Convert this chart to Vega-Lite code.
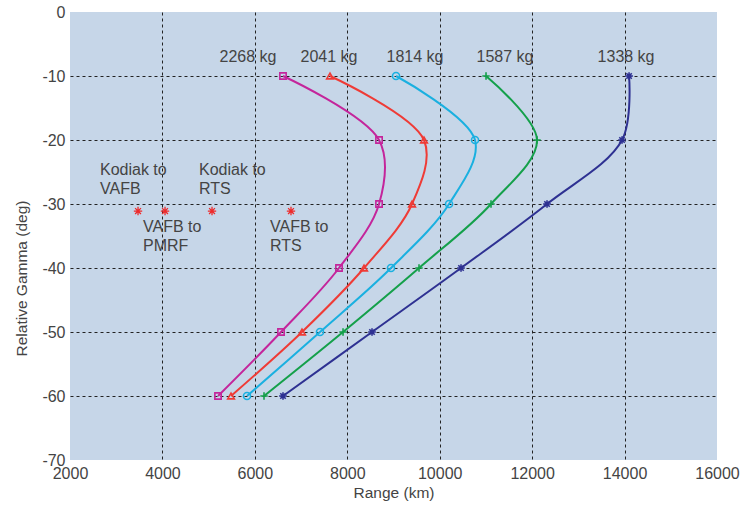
{
  "$schema": "https://vega.github.io/schema/vega-lite/v6.json",
  "width": 647,
  "height": 448,
  "autosize": "none",
  "padding": {"left": 70, "top": 12, "right": 39, "bottom": 46},
  "background": "white",
  "config": {
    "font": "Liberation Sans",
    "view": {"fill": "#c6d6e8", "stroke": null},
    "axis": {
      "domain": false,
      "ticks": false,
      "labelFlush": false,
      "labelOverlap": false,
      "labelFont": "Liberation Sans",
      "labelFontSize": 16,
      "labelColor": "#444444",
      "titleFont": "Liberation Sans",
      "titleFontSize": 15.5,
      "titleFontWeight": "normal",
      "titleColor": "#444444",
      "gridColor": "#222222",
      "gridDash": [3, 3],
      "gridWidth": 1
    }
  },
  "datasets": {
    "curves": [
      {"mass": "2268 kg", "range": 6609, "gamma": -10},
      {"mass": "2268 kg", "range": 8687, "gamma": -20},
      {"mass": "2268 kg", "range": 8687, "gamma": -30},
      {"mass": "2268 kg", "range": 7821, "gamma": -40},
      {"mass": "2268 kg", "range": 6566, "gamma": -50},
      {"mass": "2268 kg", "range": 5203, "gamma": -60},
      {"mass": "2041 kg", "range": 7626, "gamma": -10},
      {"mass": "2041 kg", "range": 9660, "gamma": -20},
      {"mass": "2041 kg", "range": 9401, "gamma": -30},
      {"mass": "2041 kg", "range": 8362, "gamma": -40},
      {"mass": "2041 kg", "range": 7020, "gamma": -50},
      {"mass": "2041 kg", "range": 5484, "gamma": -60},
      {"mass": "1814 kg", "range": 9055, "gamma": -10},
      {"mass": "1814 kg", "range": 10764, "gamma": -20},
      {"mass": "1814 kg", "range": 10202, "gamma": -30},
      {"mass": "1814 kg", "range": 8946, "gamma": -40},
      {"mass": "1814 kg", "range": 7410, "gamma": -50},
      {"mass": "1814 kg", "range": 5830, "gamma": -60},
      {"mass": "1587 kg", "range": 11002, "gamma": -10},
      {"mass": "1587 kg", "range": 12106, "gamma": -20},
      {"mass": "1587 kg", "range": 11110, "gamma": -30},
      {"mass": "1587 kg", "range": 9552, "gamma": -40},
      {"mass": "1587 kg", "range": 7908, "gamma": -50},
      {"mass": "1587 kg", "range": 6198, "gamma": -60},
      {"mass": "1338 kg", "range": 14097, "gamma": -10},
      {"mass": "1338 kg", "range": 13945, "gamma": -20},
      {"mass": "1338 kg", "range": 12322, "gamma": -30},
      {"mass": "1338 kg", "range": 10461, "gamma": -40},
      {"mass": "1338 kg", "range": 8535, "gamma": -50},
      {"mass": "1338 kg", "range": 6609, "gamma": -60}
    ],
    "massLabels": [
      {"mass": "2268 kg", "range": 5852, "gamma": -7},
      {"mass": "2041 kg", "range": 7604, "gamma": -7},
      {"mass": "1814 kg", "range": 9466, "gamma": -7},
      {"mass": "1587 kg", "range": 11413, "gamma": -7},
      {"mass": "1338 kg", "range": 14032, "gamma": -7}
    ],
    "sites": [
      {"route": "Kodiak to VAFB", "range": 3472, "gamma": -31.1},
      {"route": "VAFB to PMRF", "range": 4056, "gamma": -31.1},
      {"route": "Kodiak to RTS", "range": 5073, "gamma": -31.1},
      {"route": "VAFB to RTS", "range": 6782, "gamma": -31.1}
    ],
    "siteLabels": [
      {"label": "Kodiak to\nVAFB", "range": 2649, "gamma": -23.4},
      {"label": "Kodiak to\nRTS", "range": 4792, "gamma": -23.4},
      {"label": "VAFB to\nPMRF", "range": 3580, "gamma": -32.3},
      {"label": "VAFB to\nRTS", "range": 6328, "gamma": -32.3}
    ]
  },
  "layer": [
    {
      "data": {"name": "curves"},
      "mark": {"type": "line", "interpolate": "catmull-rom", "strokeWidth": 2},
      "encoding": {
        "x": {
          "field": "range", "type": "quantitative",
          "scale": {"domain": [2000, 16000], "nice": false, "zero": false},
          "axis": {
            "title": "Range (km)",
            "values": [2000, 4000, 6000, 8000, 10000, 12000, 14000, 16000],
            "labelExpr": "'' + datum.value",
            "labelPadding": 5,
            "titlePadding": 4,
            "gridOpacity": {"condition": {"test": "datum.value == 2000 || datum.value == 16000", "value": 0}, "value": 1}
          }
        },
        "y": {
          "field": "gamma", "type": "quantitative",
          "scale": {"domain": [-70, 0], "nice": false, "zero": false},
          "axis": {
            "title": "Relative Gamma (deg)",
            "values": [0, -10, -20, -30, -40, -50, -60, -70],
            "labelExpr": "'' + datum.value",
            "labelPadding": 5,
            "titleAngle": -90,
            "titleX": -49,
            "titleY": 266,
            "titleAlign": "center",
            "titleBaseline": "middle",
            "gridOpacity": {"condition": {"test": "datum.value == 0 || datum.value == -70", "value": 0}, "value": 1}
          }
        },
        "order": {"field": "gamma", "sort": "descending"},
        "color": {
          "field": "mass", "type": "nominal",
          "scale": {
            "domain": ["2268 kg", "2041 kg", "1814 kg", "1587 kg", "1338 kg"],
            "range": ["#c4259b", "#ef3b36", "#1ab0e0", "#14a04a", "#2e3192"]
          },
          "legend": null
        }
      }
    },
    {
      "data": {"name": "curves"},
      "mark": {"type": "point", "filled": false, "strokeWidth": 1.6, "opacity": 1},
      "encoding": {
        "x": {"field": "range", "type": "quantitative"},
        "y": {"field": "gamma", "type": "quantitative"},
        "color": {"field": "mass", "type": "nominal", "legend": null},
        "shape": {
          "field": "mass", "type": "nominal",
          "scale": {
            "domain": ["2268 kg", "2041 kg", "1814 kg", "1587 kg", "1338 kg"],
            "range": ["square", "triangle-up", "circle", "M-1,0L1,0M0,-1L0,1", "M-1,0L1,0M0,-1L0,1M-0.7,-0.7L0.7,0.7M-0.7,0.7L0.7,-0.7"]
          },
          "legend": null
        },
        "size": {
          "field": "mass", "type": "nominal",
          "scale": {
            "domain": ["2268 kg", "2041 kg", "1814 kg", "1587 kg", "1338 kg"],
            "range": [40, 60, 55, 55, 40]
          },
          "legend": null
        }
      }
    },
    {
      "data": {"name": "sites"},
      "mark": {"type": "point", "filled": false, "shape": "M-1,0L1,0M0,-1L0,1M-0.7,-0.7L0.7,0.7M-0.7,0.7L0.7,-0.7", "size": 70, "strokeWidth": 1.3, "color": "#ee2a2a", "opacity": 1},
      "encoding": {
        "x": {"field": "range", "type": "quantitative"},
        "y": {"field": "gamma", "type": "quantitative"}
      }
    },
    {
      "data": {"name": "siteLabels"},
      "mark": {"type": "text", "align": "left", "baseline": "top", "lineBreak": "\n", "lineHeight": 19, "fontSize": 16, "color": "#444444", "font": "Liberation Sans"},
      "encoding": {
        "x": {"field": "range", "type": "quantitative"},
        "y": {"field": "gamma", "type": "quantitative"},
        "text": {"field": "label"}
      }
    },
    {
      "data": {"name": "massLabels"},
      "mark": {"type": "text", "align": "center", "baseline": "middle", "fontSize": 16, "color": "#444444", "font": "Liberation Sans"},
      "encoding": {
        "x": {"field": "range", "type": "quantitative"},
        "y": {"field": "gamma", "type": "quantitative"},
        "text": {"field": "mass"}
      }
    }
  ]
}
